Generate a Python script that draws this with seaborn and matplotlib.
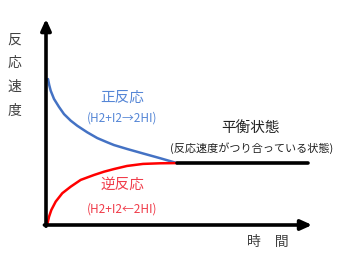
import matplotlib
matplotlib.use("Agg")
import matplotlib.pyplot as plt
import seaborn as sns
import pandas as pd

# forward reaction rate (blue)
fwd_t = [0.076, 0.121, 0.178, 0.303, 0.492, 0.682, 0.936, 1.186, 1.564, 1.943, 2.326, 2.576, 3.068, 3.674, 4.318, 4.962]
fwd_v = [7.12, 6.83, 6.55, 6.15, 5.76, 5.41, 5.09, 4.84, 4.52, 4.24, 4.03, 3.90, 3.71, 3.49, 3.26, 3.02]
# reverse reaction rate (red)
rev_t = [0.049, 0.114, 0.201, 0.367, 0.617, 0.936, 1.314, 1.818, 2.197, 2.576, 3.068, 3.674, 4.318, 4.962]
rev_v = [0.02, 0.40, 0.73, 1.14, 1.55, 1.87, 2.20, 2.44, 2.60, 2.73, 2.88, 2.98, 3.01, 3.02]
# equilibrium
eq_t = [4.96, 9.92]
eq_v = [3.02, 3.02]

sns.set_theme(style="white")
plt.rcParams['font.family'] = ['Noto Sans CJK JP', 'DejaVu Sans']

fig = plt.figure(figsize=(3.39, 2.74), dpi=100)
ax = fig.add_axes([0, 0, 1, 1])
ax.set_xlim(-46 / 26.4, (339 - 46) / 26.4)
ax.set_ylim((225 - 274) / 20.5, 225 / 20.5)
ax.axis('off')

df_f = pd.DataFrame({'t': fwd_t, 'v': fwd_v})
df_r = pd.DataFrame({'t': rev_t, 'v': rev_v})
df_e = pd.DataFrame({'t': eq_t, 'v': eq_v})
sns.lineplot(data=df_f, x='t', y='v', ax=ax, color='#4472C4', lw=1.8, sort=False)
sns.lineplot(data=df_r, x='t', y='v', ax=ax, color='#FF0000', lw=1.8, sort=False)
sns.lineplot(data=df_e, x='t', y='v', ax=ax, color='black', lw=2.6, sort=False)

# axes arrows
ap = dict(arrowstyle='-|>,head_width=0.25,head_length=0.55', lw=2.6, color='black', shrinkA=0, shrinkB=0)
ax.annotate('', xy=(0, 10.05), xytext=(0, -0.06), arrowprops=ap)
ax.annotate('', xy=(10.08, 0), xytext=(-0.06, 0), arrowprops=ap)

txt = '#404040'
for ch, yp in zip('反応速度', [40, 63, 87, 111]):
    ax.text((14 - 46) / 26.4, (225 - yp) / 20.5, ch, ha='center', va='center', fontsize=10, color=txt)
ax.text((268 - 46) / 26.4, (225 - 242) / 20.5, '時　間', ha='center', va='center', fontsize=10, color=txt)

blue_t = '#5586D6'
red_t = '#F03C4A'
ax.text((122 - 46) / 26.4, (225 - 98) / 20.5, '正反応', ha='center', va='center', fontsize=10.5, color=blue_t)
ax.text((122 - 46) / 26.4, (225 - 118) / 20.5, '(H2+I2→2HI)', ha='center', va='center', fontsize=8.5, color=blue_t)
ax.text((122 - 46) / 26.4, (225 - 185) / 20.5, '逆反応', ha='center', va='center', fontsize=10.5, color=red_t)
ax.text((122 - 46) / 26.4, (225 - 209) / 20.5, '(H2+I2←2HI)', ha='center', va='center', fontsize=8.5, color=red_t)
ax.text((250 - 46) / 26.4, (225 - 128) / 20.5, '平衡状態', ha='center', va='center', fontsize=10.5, color='#222222')
ax.text((252 - 46) / 26.4, (225 - 148) / 20.5, '(反応速度がつり合っている状態)', ha='center', va='center', fontsize=8, color='#222222')

fig.savefig('out.png', dpi=100)
